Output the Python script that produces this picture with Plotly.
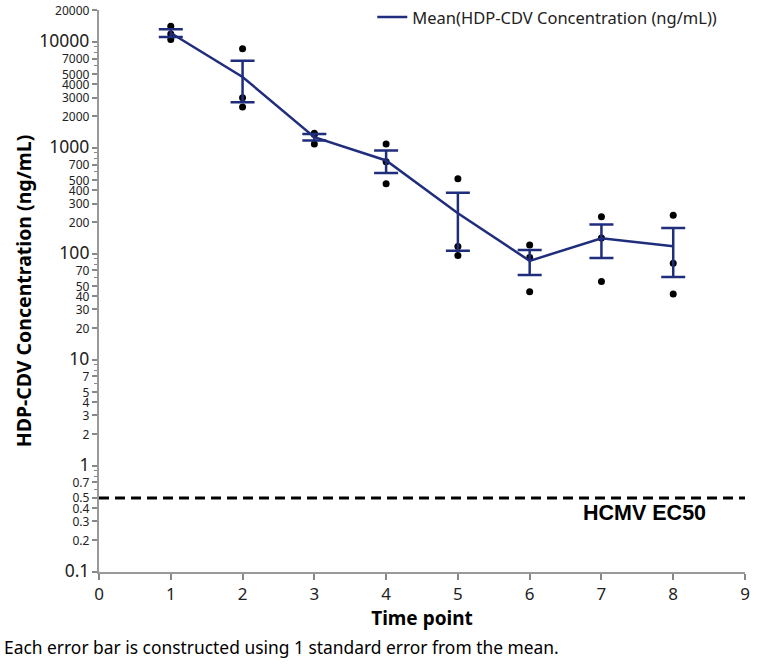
import numpy as np
import plotly.graph_objects as go

time_points = [1, 2, 3, 4, 5, 6, 7, 8]
# individual subject values (ng/mL) at each time point
values = [
    [14100, 11900, 10600],
    [8650, 2985, 2440],
    [1377, 1340, 1091],
    [1091, 743, 460],
    [514, 118, 97],
    [122, 93, 44],
    [225, 142, 55],
    [232, 82, 42],
]
ec50_value = 0.5
ec50_label = "HCMV EC50"

major_ticks = [10000, 1000, 100, 10, 1, 0.1]
labeled_minor = [20000, 7000, 5000, 4000, 3000, 2000, 700, 500, 400, 300, 200,
                 70, 50, 40, 30, 20, 7, 5, 4, 3, 2, 0.7, 0.5, 0.4, 0.3, 0.2]
unlabeled_minor = [9000, 8000, 6000, 900, 800, 600, 90, 80, 60, 9, 8, 6, 0.9, 0.8, 0.6]

means = [float(np.mean(v)) for v in values]
ses = [float(np.std(v, ddof=1) / np.sqrt(len(v))) for v in values]

navy = "#1f2d7c"
font_fam = "Noto Sans, Open Sans, sans-serif"

def fmt(v):
    return ("%g" % v)

tickvals = major_ticks + labeled_minor
ticktext = ['<span style="font-size:17.5px">%s</span>' % fmt(v) for v in major_ticks] + \
           ['<span style="font-size:12px">%s</span>' % fmt(v) for v in labeled_minor]

fig = go.Figure()

# EC50 reference line
fig.add_trace(go.Scatter(x=[0, 9], y=[ec50_value, ec50_value], mode="lines",
                         line=dict(color="black", width=3, dash="10px,6px"),
                         showlegend=False, hoverinfo="skip", cliponaxis=False))

# individual points
px, py = [], []
for t, vals in zip(time_points, values):
    for v in vals:
        px.append(t)
        py.append(v)
fig.add_trace(go.Scatter(x=px, y=py, mode="markers",
                         marker=dict(color="black", size=7),
                         showlegend=False, hoverinfo="skip"))

# mean line with SE bars
fig.add_trace(go.Scatter(x=time_points, y=means, mode="lines",
                         name="Mean(HDP-CDV Concentration (ng/mL))",
                         line=dict(color=navy, width=2.5),
                         error_y=dict(type="data", array=ses, visible=True,
                                      color=navy, thickness=2.5, width=12)))

fig.add_annotation(x=7.6, y=np.log10(ec50_value), yshift=-15, text="<b>%s</b>" % ec50_label,
                   showarrow=False, font=dict(family="Liberation Sans, Arial", size=21.5, color="black"))

fig.add_annotation(x=0, y=0, xref="paper", yref="paper", xshift=-97, yshift=-89,
                   xanchor="left", yanchor="bottom",
                   text="Each error bar is constructed using 1 standard error from the mean.",
                   showarrow=False, font=dict(family=font_fam, size=17.4, color="black"))

fig.update_layout(
    width=764, height=664,
    margin=dict(l=99, r=19, t=10, b=92, autoexpand=False),
    paper_bgcolor="white", plot_bgcolor="white",
    font=dict(family=font_fam, color="#222"),
    hovermode=False,
    legend=dict(x=0.423, y=1.018, xanchor="left", yanchor="top",
                font=dict(size=16.5, color="#222"), bgcolor="rgba(0,0,0,0)"),
    xaxis=dict(range=[0, 9], tickmode="array", tickvals=list(range(10)),
               ticks="outside", ticklen=6, tickcolor="#888", tickwidth=1.5,
               showline=True, linecolor="#999", linewidth=2,
               showgrid=False, zeroline=False, automargin=False,
               tickfont=dict(size=17, color="#222"),
               title=dict(text="<b>Time point</b>", font=dict(size=19, color="black"), standoff=6)),
    yaxis=dict(type="log", range=[-1, np.log10(20000) + 0.002], tickmode="array",
               tickvals=tickvals, ticktext=ticktext, ticklabeloverflow="allow",
               ticks="outside", ticklen=5, tickcolor="#888", tickwidth=1.5,
               minor=dict(tickmode="array", tickvals=unlabeled_minor, ticks="outside",
                          ticklen=3, tickcolor="#888", tickwidth=1),
               showline=True, linecolor="#999", linewidth=2,
               showgrid=False, zeroline=False, automargin=False,
               tickfont=dict(size=13, color="#222"),
               title=dict(text="<b>HDP-CDV Concentration (ng/mL)</b>",
                          font=dict(size=19.5, color="black"), standoff=3)),
)

fig.write_html("out.html", config={"displayModeBar": False},
               post_script="document.body.style.margin='0';")
